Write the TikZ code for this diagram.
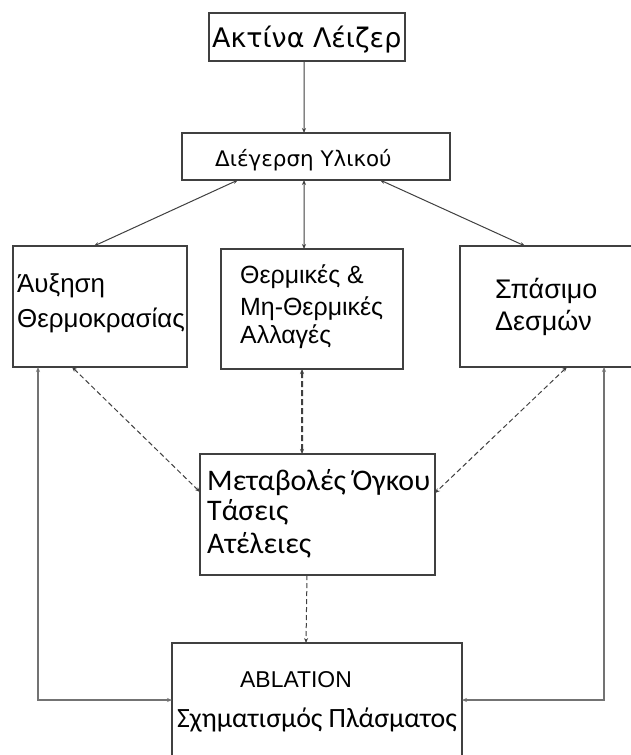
\documentclass[tikz,border=0pt]{standalone}
\usepackage{fontspec}
\setmainfont{Liberation Sans}
\newfontfamily\dejavu{DejaVu Sans}
\newfontfamily\carlito{Carlito}
\usetikzlibrary{arrows.meta, positioning}

\begin{document}
\begin{tikzpicture}[x=1bp, y=-1bp,
    box/.style={draw=black!75, line width=1.3bp, inner sep=0pt, outer sep=0pt},
    lbl/.style={anchor=base west, inner sep=0pt, text=black},
    arr/.style={draw=black!75, line width=1bp, -{Stealth[length=5bp,width=4bp]}},
    biarr/.style={draw=black!75, line width=1bp, {Stealth[length=5bp,width=4bp]}-{Stealth[length=5bp,width=4bp]}},
    dasharr/.style={biarr, dash pattern=on 5bp off 3bp},
    loopline/.style={biarr, draw=black!55, line width=1.6bp}]
                \clip (0,0) rectangle (631,755);
                \fill[white] (0,0) rectangle (631,755);

                % Laser beam
                \node[box, minimum width=196bp, minimum height=48bp] (laser) at (307,37) {};
                \node[lbl] (laserT) at (212,48) {\dejavu\fontsize{27}{30}\selectfont Ακτίνα Λέιζερ};

                % Excitation
                \node[box, minimum width=268bp, minimum height=47bp] (excit) at (316,156.5) {};
                \node[lbl] (excitT) at (215,166) {\dejavu\fontsize{21.5}{26}\selectfont Διέγερση Υλικού};

                % Temperature
                \node[box, minimum width=174bp, minimum height=121bp] (temp) at (100,306.5) {};
                \node[lbl] (tempA) at (17,292) {\fontsize{26}{30}\selectfont Άυξηση};
                \node[lbl] (tempB) at (17,327) {\fontsize{26}{30}\selectfont Θερμοκρασίας};

                % Thermal changes
                \node[box, minimum width=182bp, minimum height=120bp] (therm) at (312,309) {};
                \node[lbl] (thermA) at (240,283) {\fontsize{25}{30}\selectfont Θερμικές \&};
                \node[lbl] (thermB) at (240,315) {\fontsize{25}{30}\selectfont Μη-Θερμικές};
                \node[lbl] (thermC) at (240,343) {\fontsize{25}{30}\selectfont Αλλαγές};

                % Bonds
                \node[box, minimum width=180bp, minimum height=121bp] (bonds) at (550,306.5) {};
                \node[lbl] (bondsA) at (495,298) {\fontsize{27}{30}\selectfont Σπάσιμο};
                \node[lbl] (bondsB) at (495,330) {\fontsize{27}{30}\selectfont Δεσμών};

                % Volume changes
                \node[box, minimum width=235bp, minimum height=121bp] (vol) at (317.5,514.5) {};
                \node[lbl] (volA) at (207,490) {\carlito\fontsize{30}{32}\selectfont Μεταβολές Όγκου};
                \node[lbl] (volB) at (207,520) {\carlito\fontsize{30}{32}\selectfont Τάσεις};
                \node[lbl] (volC) at (207,553) {\carlito\fontsize{30}{32}\selectfont Ατέλειες};

                % Ablation
                \node[box, minimum width=290bp, minimum height=137bp] (abl) at (317,711.5) {};
                \node[lbl] (ablA) at (240,687) {\fontsize{23}{26}\selectfont ABLATION};
                \node[lbl] (ablB) at (177,727) {\carlito\fontsize{28}{30}\selectfont Σχηματισμός Πλάσματος};

                % Arrows
                \draw[arr] ([xshift=-3bp]laser.south) -- ([xshift=-12bp]excit.north);
                \draw[biarr] ([xshift=56bp]excit.south west) -- ([xshift=81bp]temp.north west);
                \draw[biarr] ([xshift=-12bp]excit.south) -- ([xshift=-8bp]therm.north);
                \draw[biarr] ([xshift=-70bp]excit.south east) -- ([xshift=65bp]bonds.north west);

                \draw[dasharr] ([xshift=59bp]temp.south west) -- ([yshift=22.5bp]vol.west);
                \draw[dasharr, line width=2bp, dash pattern=on 6bp off 3bp] ([xshift=-10bp]therm.south) -- ([xshift=-15.5bp]vol.north);
                \draw[dasharr] ([xshift=107bp]bonds.south west) -- ([yshift=21.5bp]vol.east);
                \draw[dasharr, -{Stealth[length=5bp,width=4bp]}] ([xshift=-10.5bp]vol.south) -- ([xshift=-11bp]abl.north);

                \draw[loopline] ([xshift=25bp]temp.south west) |- ([yshift=11.5bp]abl.west);
                \draw[loopline, line width=2.4bp] ([xshift=144bp]bonds.south west) |- ([yshift=11.5bp]abl.east);
            \end{tikzpicture}
\end{document}
